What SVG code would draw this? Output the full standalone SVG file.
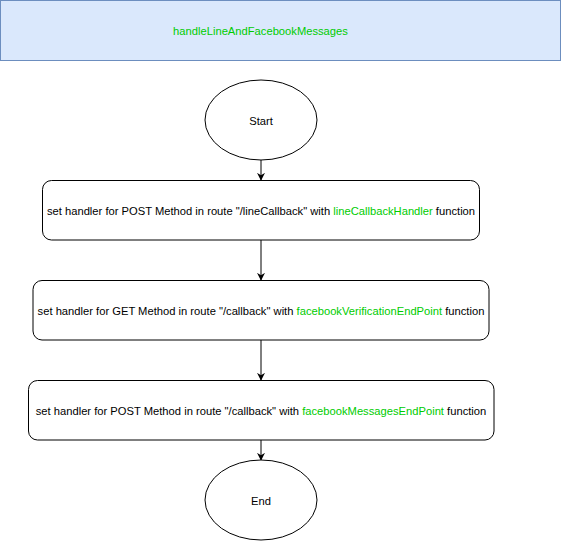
<svg xmlns="http://www.w3.org/2000/svg" width="561" height="541" viewBox="0 0 561 541">
<style>
text{font-family:"Liberation Sans",Arial,Helvetica,sans-serif;font-size:11.2px;fill:#000;text-anchor:middle;dominant-baseline:central}
.g{fill:#00CC00}
.n{fill:#fff;stroke:#000;stroke-width:1}
.c{stroke:#000;stroke-width:1;fill:none}
</style>
<defs>
<marker id="a" viewBox="0 0 10 10" refX="9" refY="5" markerWidth="8" markerHeight="8" markerUnits="userSpaceOnUse" orient="auto">
<path d="M0,0 L10,5 L0,10 L3,5 Z" fill="#000"/>
</marker>
</defs>
<rect width="561" height="541" fill="#fff"/>
<g id="title">
<rect x="0.5" y="0.5" width="560" height="60" fill="#dae8fc" stroke="#6c8ebf"/>
<text x="260.5" y="31" class="g">handleLineAndFacebookMessages</text>
</g>
<g id="connectors">
<path class="c" d="M261,160 V180" marker-end="url(#a)"/>
<path class="c" d="M261,240 V280" marker-end="url(#a)"/>
<path class="c" d="M261,340 V380" marker-end="url(#a)"/>
<path class="c" d="M261,440 V460" marker-end="url(#a)"/>
</g>
<g id="start">
<ellipse class="n" cx="261" cy="120" rx="56" ry="40"/>
<text x="261" y="121">Start</text>
</g>
<g id="step1">
<rect class="n" x="42.5" y="180.5" width="437" height="59.5" rx="9"/>
<text x="261" y="211">set handler for POST Method in route "/lineCallback" with <tspan class="g">lineCallbackHandler</tspan> function</text>
</g>
<g id="step2">
<rect class="n" x="33" y="280.5" width="456" height="59.5" rx="9"/>
<text x="261" y="311">set handler for GET Method in route "/callback" with <tspan class="g">facebookVerificationEndPoint</tspan> function</text>
</g>
<g id="step3">
<rect class="n" x="28.5" y="380.5" width="465.5" height="59.5" rx="9"/>
<text x="261" y="411">set handler for POST Method in route "/callback" with <tspan class="g">facebookMessagesEndPoint</tspan> function</text>
</g>
<g id="end">
<ellipse class="n" cx="261" cy="500" rx="56" ry="40"/>
<text x="261" y="501">End</text>
</g>
</svg>
